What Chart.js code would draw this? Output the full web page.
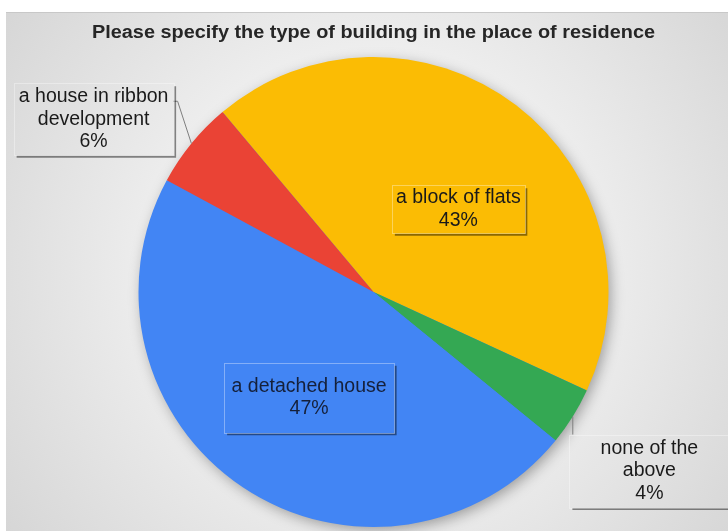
<!DOCTYPE html>
<html>
<head>
<meta charset="utf-8">
<script src="https://cdn.jsdelivr.net/npm/chart.js@4/dist/chart.umd.min.js"></script>
<style>
  html, body { margin: 0; padding: 0; background: #fff; }
  canvas { display: block; }
</style>
</head>
<body>
<canvas id="grafico" width="728" height="531"></canvas>
<script>
// datos del grafico
const titulo = "Please specify the type of building in the place of residence";
const categorias = ["a block of flats", "none of the above", "a detached house", "a house in ribbon development"];
const valores = [43, 4, 47, 6];
const colores = ["#FBBC04", "#34A853", "#4285F4", "#EA4335"];
// como se corta el texto de cada etiqueta
const lineasEtiqueta = [["a block of flats"], ["none of the", "above"], ["a detached house"], ["a house in ribbon", "development"]];

const fuente = '"Liberation Sans", Arial, sans-serif';

// posicion de las cajas (relativa al centro, en radios) y tamaño
const cajas = [
  { fx: 0.361, fy: -0.352, w: 133, h: 48, linea: false },
  { fx: 1.174, fy: 0.762, w: 160, h: 73, linea: "arriba" },
  { fx: -0.274, fy: 0.450, w: 170, h: 70, linea: false },
  { fx: -1.191, fy: -0.735, w: 160, h: 72, linea: "derecha" }
];

// fondo gris con degradado + titulo
const fondo = {
  id: "fondo",
  beforeDraw(chart) {
    const ctx = chart.ctx;
    ctx.save();
    ctx.fillStyle = "#ffffff";
    ctx.fillRect(0, 0, chart.width, chart.height);
    const g = ctx.createRadialGradient(373, 270, 20, 373, 270, 480);
    g.addColorStop(0, "#ffffff");
    g.addColorStop(0.45, "#ededed");
    g.addColorStop(1, "#d3d3d3");
    ctx.fillStyle = g;
    ctx.fillRect(6, 12, chart.width - 6, chart.height - 12);
    ctx.strokeStyle = "#c8c8c8";
    ctx.lineWidth = 1;
    ctx.beginPath();
    ctx.moveTo(6, 12.5);
    ctx.lineTo(chart.width, 12.5);
    ctx.stroke();

    // titulo, ancho igual al de la imagen
    const area = chart.chartArea;
    const cx = (area.left + area.right) / 2;
    ctx.font = "bold 18px " + fuente;
    ctx.fillStyle = "#262626";
    ctx.textAlign = "center";
    ctx.textBaseline = "alphabetic";
    const w = ctx.measureText(titulo).width;
    const esc = 563 / w;
    ctx.translate(cx, 38);
    ctx.scale(esc, 1);
    ctx.fillText(titulo, 0, 0);
    ctx.restore();
  },
  // sombra de la torta
  beforeDatasetsDraw(chart) {
    const arc = chart.getDatasetMeta(0).data[0];
    if (!arc) return;
    const ctx = chart.ctx;
    ctx.save();
    ctx.shadowColor = "rgba(0,0,0,0.35)";
    ctx.shadowBlur = 14;
    ctx.shadowOffsetX = 3;
    ctx.shadowOffsetY = 4;
    ctx.fillStyle = "#4285F4";
    ctx.beginPath();
    ctx.arc(arc.x, arc.y, arc.outerRadius - 1, 0, Math.PI * 2);
    ctx.fill();
    ctx.restore();
  }
};

// etiquetas con caja
const etiquetas = {
  id: "etiquetas",
  afterDatasetsDraw(chart) {
    const ctx = chart.ctx;
    const meta = chart.getDatasetMeta(0);
    meta.data.forEach((arc, i) => {
      const c = cajas[i];
      const r = arc.outerRadius;
      const cx = arc.x + c.fx * r;
      const cy = arc.y + c.fy * r;
      const x0 = cx - c.w / 2, y0 = cy - c.h / 2;
      ctx.save();

      // linea guia al borde del sector
      if (c.linea) {
        const mid = (arc.startAngle + arc.endAngle) / 2;
        const px = arc.x + Math.cos(mid) * r;
        const py = arc.y + Math.sin(mid) * r;
        ctx.strokeStyle = "#7f7f7f";
        ctx.lineWidth = 1;
        ctx.beginPath();
        if (c.linea === "derecha") {
          ctx.moveTo(x0 + c.w, y0 + 18);
          ctx.lineTo(x0 + c.w + 4, y0 + 18);
          ctx.lineTo(px, py);
        } else {
          ctx.moveTo(px, y0);
          ctx.lineTo(px, py);
        }
        ctx.stroke();
      }

      // sombra abajo y a la derecha
      ctx.strokeStyle = "rgba(0,0,0,0.45)";
      ctx.lineWidth = 2;
      ctx.beginPath();
      ctx.moveTo(x0 + 3, y0 + c.h + 1.5);
      ctx.lineTo(x0 + c.w + 1.5, y0 + c.h + 1.5);
      ctx.lineTo(x0 + c.w + 1.5, y0 + 3);
      ctx.stroke();
      // borde
      ctx.strokeStyle = "rgba(255,255,255,0.35)";
      ctx.lineWidth = 1;
      ctx.strokeRect(Math.round(x0) + 0.5, Math.round(y0) + 0.5, c.w, c.h);

      // texto
      const lineas = lineasEtiqueta[i].concat([valores[i] + "%"]);
      const lh = 22.5;
      ctx.fillStyle = i === 2 ? "#15203a" : "#1a1a1a";
      ctx.font = "19.5px " + fuente;
      ctx.textAlign = "center";
      ctx.textBaseline = "middle";
      const inicio = cy - (lineas.length - 1) * lh / 2;
      lineas.forEach((t, k) => ctx.fillText(t, cx, inicio + k * lh));
      ctx.restore();
    });
  }
};

const myChart = new Chart(document.getElementById("grafico"), {
  type: "pie",
  data: {
    labels: categorias,
    datasets: [{
      data: valores,
      backgroundColor: colores,
      borderWidth: 0
    }]
  },
  options: {
    responsive: false,
    animation: false,
    rotation: -40,
    layout: { padding: { left: 138, right: 119, top: 57, bottom: 4 } },
    plugins: {
      legend: { display: false },
      tooltip: { enabled: false },
      title: { display: false }
    }
  },
  plugins: [fondo, etiquetas]
});
</script>
</body>
</html>
